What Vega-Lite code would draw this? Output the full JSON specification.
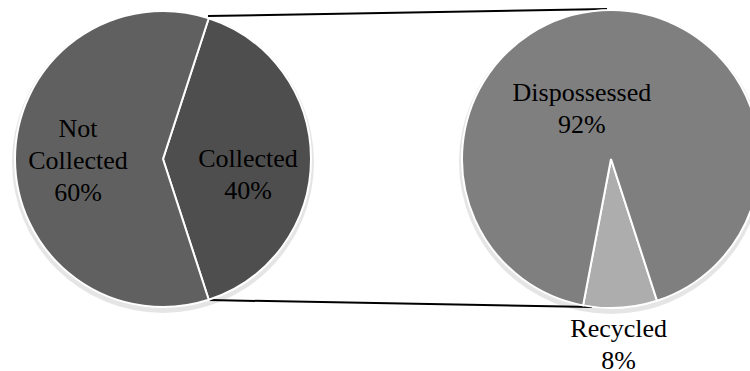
{
  "$schema": "https://vega.github.io/schema/vega-lite/v6.json",
  "width": 750,
  "height": 371,
  "autosize": {"type": "none"},
  "padding": 0,
  "background": "white",
  "config": {"view": {"stroke": null}},
  "datasets": {
    "waste": [
      {"chart": "Collection", "category": "Collected", "share": 40},
      {"chart": "Collection", "category": "Not Collected", "share": 60},
      {"chart": "Collected waste", "category": "Recycled", "share": 8},
      {"chart": "Collected waste", "category": "Dispossessed", "share": 92}
    ],
    "single": [{}]
  },
  "layer": [
    {
      "data": {"name": "single"},
      "mark": {"type": "rule", "stroke": "#000000", "strokeWidth": 2},
      "encoding": {
        "x": {"datum": 0.304, "type": "quantitative", "scale": {"domain": [-1.1014, 3.9662], "nice": false, "zero": false}, "axis": null},
        "y": {"datum": 0.966, "type": "quantitative", "scale": {"domain": [-1.4324, 1.0743], "nice": false, "zero": false}, "axis": null},
        "x2": {"datum": 3.0},
        "y2": {"datum": 1.014}
      }
    },
    {
      "data": {"name": "single"},
      "mark": {"type": "rule", "stroke": "#000000", "strokeWidth": 2},
      "encoding": {
        "x": {"datum": 0.311, "type": "quantitative", "scale": {"domain": [-1.1014, 3.9662], "nice": false, "zero": false}, "axis": null},
        "y": {"datum": -0.953, "type": "quantitative", "scale": {"domain": [-1.4324, 1.0743], "nice": false, "zero": false}, "axis": null},
        "x2": {"datum": 2.899},
        "y2": {"datum": -1.0}
      }
    },
    {
      "data": {"name": "single"},
      "mark": {"type": "arc", "theta": 0, "theta2": 6.2832, "outerRadius": 151, "fill": "#000000", "opacity": 0.1},
      "encoding": {
        "x": {"datum": 0, "type": "quantitative", "scale": {"domain": [-1.1014, 3.9662], "nice": false, "zero": false}, "axis": null},
        "y": {"datum": -0.02, "type": "quantitative", "scale": {"domain": [-1.4324, 1.0743], "nice": false, "zero": false}, "axis": null}
      }
    },
    {
      "data": {"name": "single"},
      "mark": {"type": "arc", "theta": 0, "theta2": 6.2832, "outerRadius": 152, "fill": "#000000", "opacity": 0.1},
      "encoding": {
        "x": {"datum": 3.027, "type": "quantitative", "scale": {"domain": [-1.1014, 3.9662], "nice": false, "zero": false}, "axis": null},
        "y": {"datum": -0.02, "type": "quantitative", "scale": {"domain": [-1.4324, 1.0743], "nice": false, "zero": false}, "axis": null}
      }
    },
    {
      "data": {"name": "waste"},
      "transform": [
        {"filter": "datum.chart === 'Collection'"},
        {"calculate": "datum.category + ' ' + datum.share + '%'", "as": "label"}
      ],
      "encoding": {
        "theta": {"field": "share", "type": "quantitative", "stack": true, "scale": {"range": [0.31416, 6.59734]}},
        "order": {"field": "share", "sort": "ascending"},
        "x": {"datum": 0, "type": "quantitative", "scale": {"domain": [-1.1014, 3.9662], "nice": false, "zero": false}, "axis": null},
        "y": {"datum": 0, "type": "quantitative", "scale": {"domain": [-1.4324, 1.0743], "nice": false, "zero": false}, "axis": null}
      },
      "layer": [
        {
          "mark": {"type": "arc", "outerRadius": 148, "stroke": "#ffffff", "strokeWidth": 2},
          "encoding": {
            "color": {"field": "category", "type": "nominal", "legend": null,
              "scale": {"domain": ["Not Collected", "Collected", "Dispossessed", "Recycled"], "range": ["#606060", "#4e4e4e", "#7f7f7f", "#adadad"]}}
          }
        },
        {
          "mark": {"type": "text", "font": "Liberation Serif", "fontSize": 26, "lineHeight": 32, "lineBreak": " ", "color": "#000000",
            "align": "center", "baseline": "middle", "radius": 85,
            "dy": {"expr": "datum.category === 'Collected' ? 0 : -30"}},
          "encoding": {"text": {"field": "label", "type": "nominal"}}
        }
      ]
    },
    {
      "data": {"name": "waste"},
      "transform": [
        {"filter": "datum.chart === 'Collected waste'"},
        {"calculate": "datum.category + ' ' + datum.share + '%'", "as": "label"}
      ],
      "encoding": {
        "theta": {"field": "share", "type": "quantitative", "stack": true, "scale": {"range": [2.82743, 9.11062]}},
        "order": {"field": "share", "sort": "ascending"},
        "x": {"datum": 3.027, "type": "quantitative", "scale": {"domain": [-1.1014, 3.9662], "nice": false, "zero": false}, "axis": null},
        "y": {"datum": 0, "type": "quantitative", "scale": {"domain": [-1.4324, 1.0743], "nice": false, "zero": false}, "axis": null}
      },
      "layer": [
        {
          "mark": {"type": "arc", "outerRadius": 149, "stroke": "#ffffff", "strokeWidth": 2},
          "encoding": {
            "color": {"field": "category", "type": "nominal", "legend": null,
              "scale": {"domain": ["Not Collected", "Collected", "Dispossessed", "Recycled"], "range": ["#606060", "#4e4e4e", "#7f7f7f", "#adadad"]}}
          }
        },
        {
          "mark": {"type": "text", "font": "Liberation Serif", "fontSize": 26, "lineHeight": 32, "lineBreak": " ", "color": "#000000",
            "align": "center", "baseline": "middle",
            "radius": {"expr": "datum.category === 'Recycled' ? 186 : 50"},
            "dx": {"expr": "datum.category === 'Recycled' ? -4 : -26"},
            "dy": -16},
          "encoding": {"text": {"field": "label", "type": "nominal"}}
        }
      ]
    }
  ],
  "resolve": {"scale": {"theta": "independent"}}
}
